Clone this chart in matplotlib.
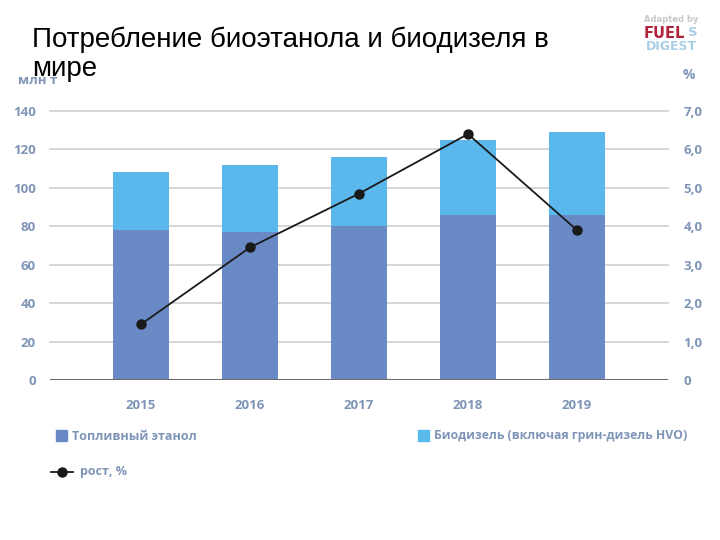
import matplotlib
matplotlib.use("Agg")
import matplotlib.pyplot as plt
import numpy as np
from matplotlib.lines import Line2D

years = ["2015", "2016", "2017", "2018", "2019"]
ethanol = [78, 77, 80, 86, 86]
biodiesel = [30, 35, 36, 39, 43]
growth = [1.45, 3.45, 4.85, 6.4, 3.9]
left_ticks = [0, 20, 40, 60, 80, 100, 120, 140]
right_ticks = ["0", "1,0", "2,0", "3,0", "4,0", "5,0", "6,0", "7,0"]

c_eth = "#6a8ac6"
c_bio = "#5bb8ec"
c_txt = "#7f95b8"
c_grid = "#cfcfcf"

fig = plt.figure(figsize=(7.2, 5.4), dpi=100)
ax = fig.add_axes([50/720, 1-380/540, 618/720, (380-111)/540])
x = np.arange(len(years))
ax.bar(x, ethanol, width=0.52, color=c_eth, zorder=2)
ax.bar(x, biodiesel, bottom=ethanol, width=0.52, color=c_bio, zorder=2)
ax.set_xlim(-0.835, 4.835)
ax.set_ylim(0, 140)
for t in left_ticks[1:]:
    ax.axhline(t, color=c_grid, lw=1.2, zorder=1, clip_on=False)
ax.axhline(0, color="#6b6b6b", lw=2.2, zorder=3)
for s in ax.spines.values():
    s.set_visible(False)
ax.set_yticks(left_ticks)
ax.set_yticklabels([str(t) for t in left_ticks], fontsize=9.5, color=c_txt,
                   fontweight="bold", family="Open Sans")
ax.tick_params(axis="y", length=0, pad=10)
ax.set_xticks(x)
ax.set_xticklabels(years, fontsize=9.5, color=c_txt, fontweight="bold", family="Open Sans")
ax.tick_params(axis="x", length=0, pad=14)

ax2 = ax.twinx()
ax2.set_ylim(0, 7)
ax2.plot(x, growth, color="#1a1a1a", lw=1.3, marker="o", ms=6.5, zorder=5)
ax2.set_yticks(range(8))
ax2.set_yticklabels(right_ticks, fontsize=9.5, color=c_txt, fontweight="bold", family="Open Sans")
ax2.tick_params(axis="y", length=0, pad=11)
for s in ax2.spines.values():
    s.set_visible(False)

fig.text(18/720, 1-81/540, "млн т", fontsize=9.5, color=c_txt, fontweight="bold",
         family="Open Sans", va="center", ha="left")
fig.text(683/720, 1-75/540, "%", fontsize=10, color=c_txt, fontweight="bold",
         family="Open Sans", va="center", ha="left")

fig.text(32/720, 1-27/540, "Потребление биоэтанола и биодизеля в\nмире", fontsize=20,
         family="Liberation Sans", color="black", va="top", ha="left", linespacing=1.15)

# logo
fig.text(671/720, 1-20/540, "Adapted by", fontsize=6, color="#c8c8c8", fontweight="bold",
         ha="center", va="center", family="DejaVu Sans")
fig.text(664/720, 1-33/540, "FUEL", fontsize=10.5, color="#b0233a", fontweight="bold",
         ha="center", va="center", family="DejaVu Sans")
fig.text(693/720, 1-33/540, "S", fontsize=9.5, color="#a9cfe6", fontweight="bold",
         ha="center", va="center", family="DejaVu Sans")
fig.text(671/720, 1-47/540, "DIGEST", fontsize=9, color="#a9cfe6", fontweight="bold",
         ha="center", va="center", family="DejaVu Sans")

# legend
fig.patches.append(plt.Rectangle((56/720, 1-441/540), 11/720, 11/540, color=c_eth,
                                 transform=fig.transFigure, figure=fig))
fig.text(72/720, 1-436/540, "Топливный этанол", fontsize=9, color=c_txt, fontweight="bold",
         family="Open Sans", va="center", ha="left")
fig.patches.append(plt.Rectangle((418/720, 1-441/540), 11/720, 11/540, color=c_bio,
                                 transform=fig.transFigure, figure=fig))
fig.text(434/720, 1-436/540, "Биодизель (включая грин-дизель HVO)", fontsize=8.8, color=c_txt,
         fontweight="bold", family="Open Sans", va="center", ha="left")
fig.lines.append(Line2D([51/720, 73/720], [1-472/540, 1-472/540], color="#1a1a1a", lw=1.3,
                        marker=None, transform=fig.transFigure, figure=fig))
fig.lines.append(Line2D([62/720], [1-472/540], color="#1a1a1a", marker="o", ms=6.5,
                        transform=fig.transFigure, figure=fig))
fig.text(80/720, 1-472/540, "рост, %", fontsize=9, color=c_txt, fontweight="bold",
         family="Open Sans", va="center", ha="left")

fig.savefig("out.png", dpi=100)
